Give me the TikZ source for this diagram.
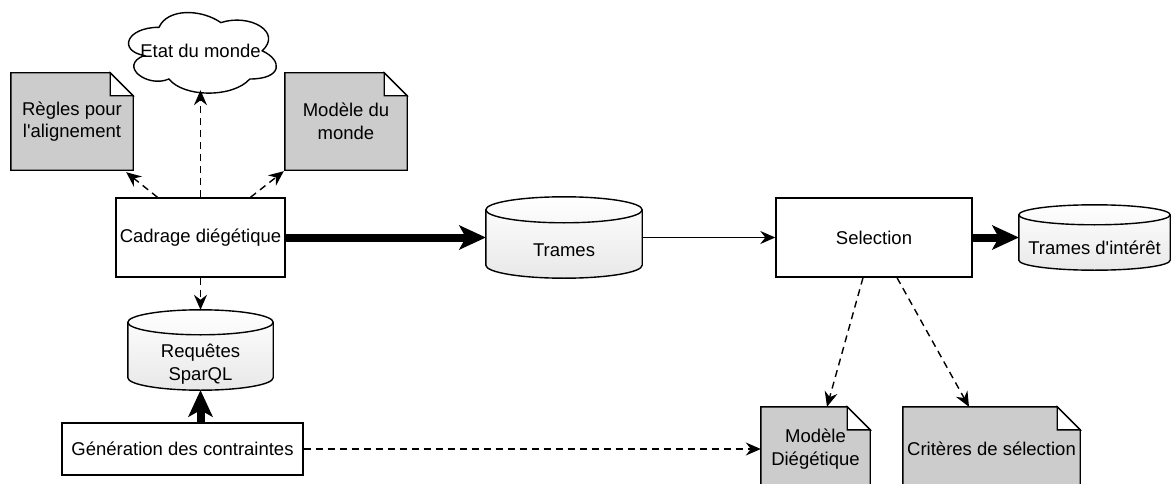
\documentclass[tikz,border=0pt]{standalone}
\usepackage{fontspec}
\setmainfont{Liberation Sans}[Ligatures=TeXOff]
\usetikzlibrary{arrows.meta,calc,backgrounds}
\definecolor{docgray}{HTML}{CCCCCC}
\tikzset{
  base/.style={font=\fontsize{18.5}{22.5}\selectfont, inner sep=0pt, align=center},
  box/.style={base, draw, line width=1.4pt, fill=white},
  area/.style={base},
  shp/.style={draw, line width=1.4pt, line join=miter},
  thinarrow/.style={line width=1.4pt, -{Stealth[length=15pt,width=13pt,inset=5pt]}},
  dsh/.style={thinarrow, dash pattern=on 7pt off 5pt},
  thickarrow/.style={line width=8pt, -{Stealth[length=27pt,width=25pt,inset=7pt,line width=0pt]}},
}
\newcommand\docshape[1]{%
  \path[shp, fill=docgray] let \p1=(#1.north west), \p2=(#1.south east) in
    (\x1,\y1) -- (\x2-23pt,\y1) -- (\x2,\y1-23pt) -- (\x2,\y2) -- (\x1,\y2) -- cycle;
  \path[shp, fill=white] let \p1=(#1.north west), \p2=(#1.south east) in
    (\x2-23pt,\y1) -- (\x2-23pt,\y1-23pt) -- (\x2,\y1-23pt) -- cycle;}
\newcommand\cylshape[2]{%
  \path[shp, top color=white, bottom color=black!9] let \p1=(#1.north west), \p2=(#1.south east), \n1={(\x2-\x1)/2} in
    (\x1,\y1-#2pt) -- (\x1,\y2+#2pt) arc[start angle=180, end angle=360, x radius=\n1, y radius=#2pt]
    -- (\x2,\y1-#2pt) arc[start angle=0, end angle=180, x radius=\n1, y radius=#2pt] -- cycle;
  \path[shp] let \p1=(#1.north west), \p2=(#1.south east), \n1={(\x2-\x1)/2} in
    (\x1,\y1-#2pt) arc[start angle=180, end angle=360, x radius=\n1, y radius=#2pt];}
\begin{document}
\begin{tikzpicture}[x=1pt,y=-1pt]
\useasboundingbox (0,0) rectangle (1172,484);
% nodes
\node[area, minimum width=165pt, minimum height=94pt] (cloud) at (200.5,51) {Etat du monde};
\node[area, minimum width=122pt, minimum height=97pt] (regles) at (72,121.5) {Règles pour\\l'alignement};
\node[area, minimum width=122pt, minimum height=97pt] (mmonde) at (346,121.5) {Modèle du\\monde};
\node[box, minimum width=169pt, minimum height=79pt] (cadrage) at (200.5,237.5) {Cadrage diégétique};
\node[area, minimum width=156pt, minimum height=81pt] (trames) at (564,237.5) {};
\node[base] (tramesT) at (564,250.5) {Trames};
\node[box, minimum width=196pt, minimum height=79pt] (selection) at (874,237.5) {Selection};
\node[area, minimum width=151pt, minimum height=65pt] (tramesi) at (1094.5,237.5) {};
\node[base] (tramesiT) at (1094.5,247.5) {Trames d'intérêt};
\node[area, minimum width=145pt, minimum height=80pt] (requetes) at (200.5,350) {};
\node[base] (requetesT) at (200.5,364) {Requêtes\\SparQL};
\node[box, minimum width=241pt, minimum height=52pt] (generation) at (182.5,449) {Génération des contraintes};
\node[area, minimum width=109pt, minimum height=84pt] (mdieg) at (815.5,449) {Modèle\\Diégétique};
\node[area, minimum width=177pt, minimum height=84pt] (criteres) at (991.5,449) {Critères de sélection};
% shapes behind text
\begin{scope}[on background layer]
  \path[shp, fill=white, shift={(cloud.north west)}, x=165pt, y=-94pt]
    (0.25,0.25) .. controls (0.05,0.25) and (0,0.5) .. (0.16,0.55)
    .. controls (0,0.66) and (0.18,0.9) .. (0.31,0.8)
    .. controls (0.4,1) and (0.7,1) .. (0.8,0.8)
    .. controls (1,0.8) and (1,0.6) .. (0.875,0.5)
    .. controls (1,0.3) and (0.8,0.1) .. (0.625,0.2)
    .. controls (0.5,0.05) and (0.3,0.05) .. (0.25,0.25) -- cycle;
  \docshape{regles}
  \docshape{mmonde}
  \docshape{mdieg}
  \docshape{criteres}
  \cylshape{trames}{13}
  \cylshape{tramesi}{10}
  \cylshape{requetes}{12.5}
\end{scope}
% connectors
\draw[dsh] ([xshift=-43pt]cadrage.north) -- ($(regles.south east)+(-7,2)$);
\draw[dsh] ([xshift=50pt]cadrage.north) -- ($(mmonde.south west)+(-1,1)$);
\draw[dsh] (cadrage.north) -- ($(cloud.south)+(0,-8)$);
\draw[dsh] (cadrage.south) -- (cadrage.south |- requetes.north);
\draw[thickarrow] (cadrage.east) -- (trames.west);
\draw[thinarrow] (trames.east) -- (selection.west);
\draw[thickarrow] (selection.east) -- (tramesi.west);
\draw[thickarrow] (generation.north -| requetes.south) -- (requetes.south);
\draw[dsh] (generation.east) -- (generation.east -| mdieg.west);
\draw[dsh] ([xshift=-11pt]selection.south) -- ([xshift=11.5pt]mdieg.north);
\draw[dsh] ([xshift=23pt]selection.south) -- ([xshift=-22.5pt]criteres.north);
\end{tikzpicture}
\end{document}
